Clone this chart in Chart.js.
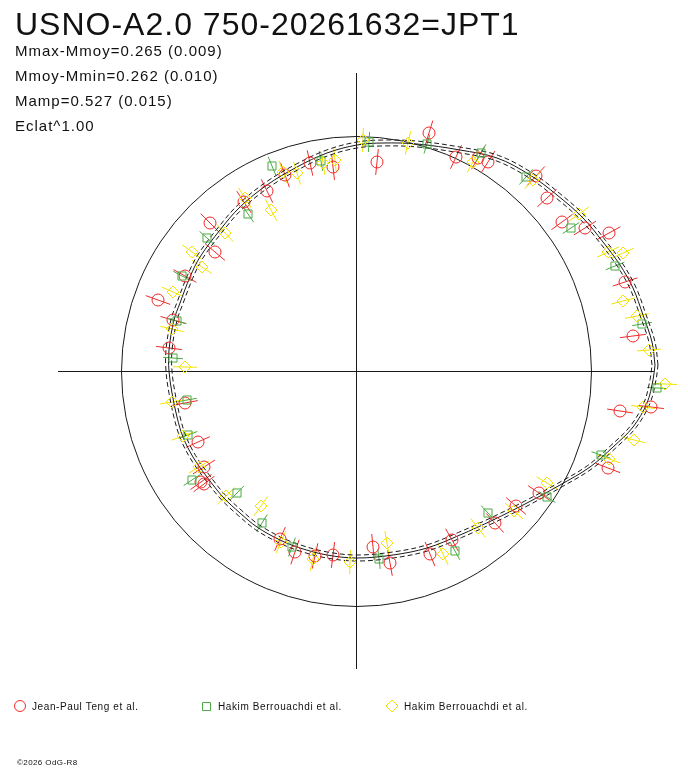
<!DOCTYPE html>
<html>
<head>
<meta charset="utf-8">
<script src="https://cdn.jsdelivr.net/npm/chart.js@4.4.0/dist/chart.umd.min.js"></script>
<style>
  html, body { margin: 0; padding: 0; background: #fff; }
  #wrap { width: 688px; height: 768px; }
</style>
</head>
<body>
<div id="wrap"><canvas id="chart" width="688" height="768"></canvas></div>
<script>
// polar light curve: every value is an offset from the pole (x right, y up)
const titleText = 'USNO-A2.0 750-20261632=JPT1';
const statLines = ['Mmax-Mmoy=0.265 (0.009)', 'Mmoy-Mmin=0.262 (0.010)', 'Mamp=0.527 (0.015)', 'Eclat^1.00'];
const seriesNames = ['Jean-Paul Teng et al.', 'Hakim Berrouachdi et al.', 'Hakim Berrouachdi et al.'];

const refRadius = 235;   // reference circle
const axisHalf = 298;    // half length of the cross
const bandWidth = 3;     // dashed envelope around the fit

// fitted curve
const fitX = [299, 296, 287, 277, 264, 247, 227, 201, 174, 141, 104, 61, 27, 1, -29, -59, -89, -116, -136, -156, -166, -176, -182, -187, -187, -184, -179, -173, -163, -149, -133, -116, -99, -76, -56, -29, 1, 37, 71, 104, 137, 171, 204, 234, 257, 277, 291, 297];
const fitY = [6, 29, 56, 83, 106, 129, 153, 176, 196, 213, 221, 227, 228, 226, 218, 204, 186, 164, 141, 114, 94, 68, 51, 21, 0, -22, -46, -66, -86, -106, -126, -142, -156, -169, -177, -184, -187, -184, -177, -164, -149, -132, -114, -96, -76, -56, -32, -9];

// Jean-Paul Teng et al.
const tengX = [-46, -23, -71, -89, -112, -146, -141, -171, -198, 73, 21, 100, 132, 122, 180, 191, 206, 229, 253, 269, 277, 264, 295, 252, 183, 160, 139, 96, 74, 34, 17, -183, -187, -171, -158, -152, -155, -152, -76, -61, -41, -23];
const tengY = [208, 204, 196, 180, 169, 148, 119, 95, 71, 238, 209, 214, 209, 213, 195, 173, 149, 143, 138, 89, 35, -40, -36, -97, -122, -135, -152, -169, -183, -192, -176, 51, 23, -32, -71, -96, -111, -113, -168, -181, -185, -184];
const tengErr = 13;

// Hakim Berrouachdi et al. (squares)
const berA_X = [-84, -35, -108, -149, -174, -179, 13, 71, 125, 170, 215, 259, 286, 301, 245, 191, 132, 99, 23, -183, -169, -168, -164, -119, -94, -64];
const berA_Y = [205, 210, 157, 133, 95, 50, 229, 227, 218, 194, 143, 105, 47, -17, -84, -126, -142, -180, -188, 13, -29, -64, -109, -122, -152, -176];
const berA_Err = 10;

// Hakim Berrouachdi et al. (diamonds)
const berB_X = [-73, -59, -21, -33, -111, -85, -131, -164, -154, -183, 7, 52, 117, 177, 223, 252, 267, 267, 281, 293, 309, 287, 278, 253, 191, 158, 122, 87, 31, -6, -184, -171, -184, -173, -157, -130, -95, -75, -43];
const berB_Y = [199, 198, 211, 208, 173, 161, 138, 119, 104, 79, 231, 228, 209, 191, 157, 119, 118, 70, 55, 21, -13, -36, -69, -88, -112, -140, -157, -183, -172, -191, 42, 4, -31, -65, -96, -125, -135, -171, -188];
const berB_Err = 12;

const red = '#ee2a2a';
const green = '#4aaa44';
const yellow = '#f2e400';
const ink = '#1a1a1a';

function toPoints(xs, ys) {
  return xs.map((x, i) => ({ x: x, y: ys[i] }));
}

function closedRing(xs, ys, shift) {
  const pts = xs.map((x, i) => {
    const r = Math.hypot(x, ys[i]);
    const k = (r + shift) / r;
    return { x: x * k, y: ys[i] * k };
  });
  pts.push(pts[0]);
  return pts;
}

const markerSets = [
  { name: seriesNames[0], xs: tengX, ys: tengY, err: tengErr, color: red, style: 'circle', radius: 6 },
  { name: seriesNames[1], xs: berA_X, ys: berA_Y, err: berA_Err, color: green, style: 'rect', radius: 5.7 },
  { name: seriesNames[2], xs: berB_X, ys: berB_Y, err: berB_Err, color: yellow, style: 'rectRot', radius: 6 }
];

const fitLine = (pts, dash) => ({
  type: 'line',
  data: pts,
  borderColor: ink,
  borderWidth: 1,
  borderDash: dash,
  pointRadius: 0,
  tension: 0.35,
  fill: false,
  order: 10
});

const datasets = [
  fitLine(closedRing(fitX, fitY, 0), []),
  fitLine(closedRing(fitX, fitY, bandWidth), [5, 3]),
  fitLine(closedRing(fitX, fitY, -bandWidth), [5, 3])
];
markerSets.forEach((s, i) => {
  datasets.push({
    type: 'scatter',
    label: s.name,
    data: toPoints(s.xs, s.ys),
    pointStyle: s.style,
    pointRadius: s.radius,
    pointBorderColor: s.color,
    pointBackgroundColor: 'rgba(0,0,0,0)',
    pointBorderWidth: 1,
    order: 3 - i
  });
});

const polarFrame = {
  id: 'polarFrame',
  beforeDatasetsDraw(chart) {
    const ctx = chart.ctx;
    const sx = chart.scales.x, sy = chart.scales.y;
    const cx = sx.getPixelForValue(0), cy = sy.getPixelForValue(0);
    ctx.save();
    ctx.strokeStyle = ink;
    ctx.lineWidth = 1;
    // half-pixel shift keeps the cross crisp
    ctx.beginPath();
    ctx.moveTo(sx.getPixelForValue(-axisHalf), cy + 0.5);
    ctx.lineTo(sx.getPixelForValue(axisHalf), cy + 0.5);
    ctx.moveTo(cx + 0.5, sy.getPixelForValue(axisHalf));
    ctx.lineTo(cx + 0.5, sy.getPixelForValue(-axisHalf));
    ctx.stroke();
    ctx.beginPath();
    ctx.arc(cx + 0.5, cy + 0.5, sx.getPixelForValue(refRadius) - cx, 0, Math.PI * 2);
    ctx.stroke();
    // radial error bars
    markerSets.forEach(s => {
      ctx.strokeStyle = s.color;
      ctx.beginPath();
      s.xs.forEach((x, i) => {
        const y = s.ys[i];
        const r = Math.hypot(x, y);
        const ux = x / r, uy = y / r;
        ctx.moveTo(sx.getPixelForValue(x - ux * s.err), sy.getPixelForValue(y - uy * s.err));
        ctx.lineTo(sx.getPixelForValue(x + ux * s.err), sy.getPixelForValue(y + uy * s.err));
      });
      ctx.stroke();
    });
    ctx.restore();
  },
  afterDraw(chart) {
    const ctx = chart.ctx;
    ctx.save();
    ctx.fillStyle = '#111';
    ctx.textBaseline = 'alphabetic';
    ctx.font = '32px "Liberation Sans", Arial, sans-serif';
    ctx.letterSpacing = '1px';
    ctx.fillText(titleText, 15, 35);
    ctx.font = '15px "Liberation Sans", Arial, sans-serif';
    ctx.letterSpacing = '1px';
    statLines.forEach((t, i) => ctx.fillText(t, 15, 56 + i * 25));

    // legend row
    const legendX = [20, 206, 392];
    const legendY = 706;
    ctx.font = '10px "Liberation Sans", Arial, sans-serif';
    ctx.letterSpacing = '0.6px';
    markerSets.forEach((s, i) => {
      const x = legendX[i];
      ctx.strokeStyle = s.color;
      ctx.lineWidth = 1;
      ctx.beginPath();
      if (s.style === 'circle') {
        ctx.arc(x, legendY, 5.5, 0, Math.PI * 2);
      } else if (s.style === 'rect') {
        ctx.rect(x - 3.5, legendY - 3.5, 8, 8);
      } else {
        ctx.moveTo(x - 6, legendY);
        ctx.lineTo(x, legendY - 6);
        ctx.lineTo(x + 6, legendY);
        ctx.lineTo(x, legendY + 6);
        ctx.closePath();
      }
      ctx.stroke();
      ctx.fillStyle = '#111';
      ctx.fillText(s.name, x + 12, legendY + 4);
    });

    ctx.font = '8px "Liberation Sans", Arial, sans-serif';
    ctx.letterSpacing = '0.4px';
    ctx.fillText('\u00a92026 OdG-R8', 17, 765);
    ctx.restore();
  }
};

new Chart(document.getElementById('chart'), {
  type: 'scatter',
  data: { datasets: datasets },
  options: {
    responsive: false,
    animation: false,
    layout: { padding: 0, autoPadding: false },
    scales: {
      x: { type: 'linear', min: -356, max: 332, display: false },
      y: { type: 'linear', min: -397, max: 371, display: false }
    },
    plugins: {
      legend: { display: false },
      tooltip: { enabled: false }
    }
  },
  plugins: [polarFrame]
});
</script>
</body>
</html>
